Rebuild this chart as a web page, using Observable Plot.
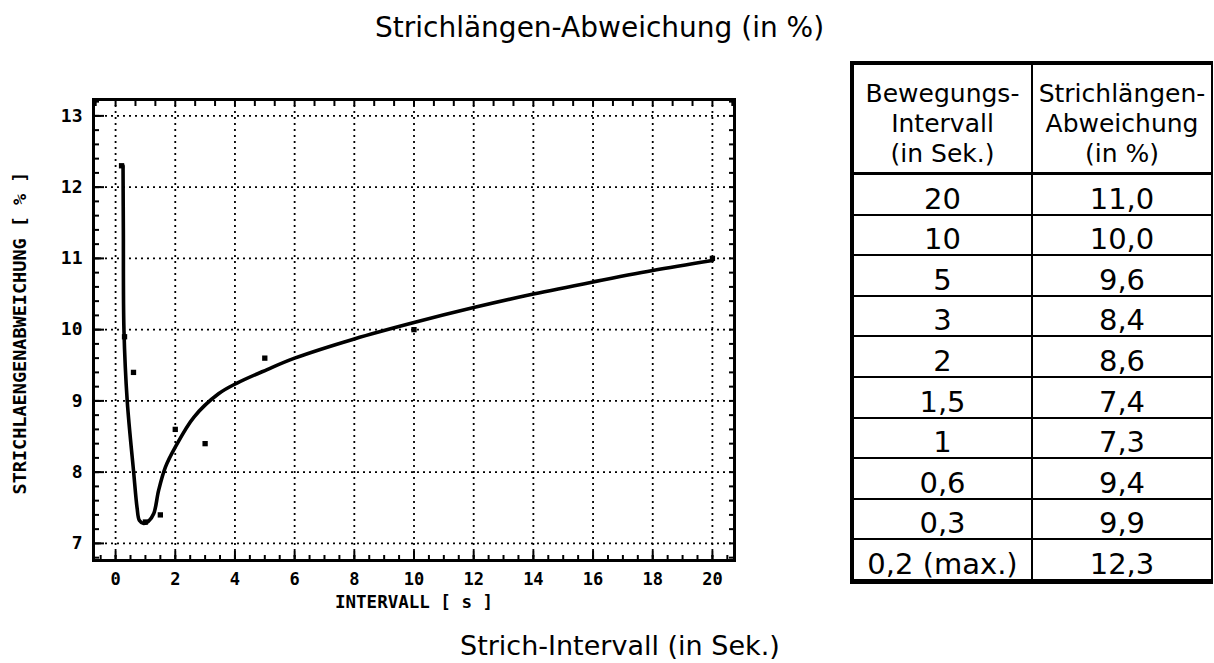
<!DOCTYPE html>
<html>
<head>
<meta charset="utf-8">
<script src="https://cdn.jsdelivr.net/npm/d3@7"></script>
<script src="https://cdn.jsdelivr.net/npm/@observablehq/plot@0.6"></script>
<style>
  body { margin: 0; background: #fff; }
  #page { position: relative; width: 1214px; height: 663px; overflow: hidden; background: #fff; }
  .txt { position: absolute; font-family: "DejaVu Sans", sans-serif; font-size: 28px; line-height: 28px; white-space: nowrap; color: #000; }
  #chart { position: absolute; left: 0; top: 0; }
  #tbl { position: absolute; left: 850px; top: 61px; border-collapse: separate; border-spacing: 0;
         font-family: "DejaVu Sans", sans-serif; color: #000;
         border-top: 4px solid #000; border-left: 4px solid #000; border-bottom: 3px solid #000; border-right: 2px solid #000; }
  #tbl td { box-sizing: border-box; padding: 0; text-align: center; vertical-align: bottom; white-space: nowrap;
            border-bottom: 2px solid #000; font-size: 29px; line-height: 30px; height: 40.6px; }
  #tbl td.c1 { border-right: 2px solid #000; width: 179px; }
  #tbl td.c2 { width: 178px; }
  #tbl tr.head td { height: 110px; border-bottom: 3px solid #000; font-size: 25px; line-height: 30px; padding-bottom: 3px; }
</style>
</head>
<body>
<div id="page">
  <div id="chart"></div>
  <div class="txt" style="left:375px; top:14px;">Strichlängen-Abweichung (in %)</div>
  <div class="txt" style="left:460px; top:632px; font-size:27px;">Strich-Intervall (in Sek.)</div>
</div>
<script>
// Measured values (table + square markers)
const intervals  = [20, 10, 5, 3, 2, 1.5, 1, 0.6, 0.3, 0.2];
const deviations = [11.0, 10.0, 9.6, 8.4, 8.6, 7.4, 7.3, 9.4, 9.9, 12.3];

// Fitted curve
const fitX = [0.25, 0.26, 0.28, 0.39, 0.61, 0.72, 0.8, 0.94, 1.1, 1.28, 1.44, 1.67, 2.0, 2.62, 3.45, 4.07, 5.08, 6.0, 8.0, 10.0, 12.0, 14.0, 16.0, 18.0, 20.0];
const fitY = [12.3, 11.4, 10.0, 9.0, 7.98, 7.5, 7.32, 7.28, 7.31, 7.42, 7.74, 8.07, 8.35, 8.77, 9.1, 9.25, 9.44, 9.6, 9.87, 10.1, 10.31, 10.5, 10.67, 10.83, 10.97];

// Tick labels / grid
const xMajorTicks = [0, 2, 4, 6, 8, 10, 12, 14, 16, 18, 20];
const yMajorTicks = [7, 8, 9, 10, 11, 12, 13];
const xMinorBottom = d3.range(-1, 42).map(i => i / 2);
const xMinorTop = d3.range(-1, 32).map(i => i * 2 / 3);
const yMinorTicks = d3.range(34, 67).map(i => i / 5);

// Table texts
const headerInterval = ["Bewegungs-", "Intervall", "(in Sek.)"];
const headerDeviation = ["Strichlängen-", "Abweichung", "(in %)"];
const comma = s => s.replace(".", ",");
const intervalLabels = intervals.map((v, i) => comma(String(v)) + (i === intervals.length - 1 ? " (max.)" : ""));
const deviationLabels = deviations.map(v => comma(v.toFixed(1)));

const measured = intervals.map((x, i) => ({x, y: deviations[i]}));
const fit = fitX.map((x, i) => ({x, y: fitY[i]}));

const monoBold = {fontFamily: "DejaVu Sans Mono, monospace", fontWeight: "bold"};
const noText = () => "";

const plot = Plot.plot({
  width: 760,
  height: 630,
  marginLeft: 93,
  marginRight: 26,
  marginTop: 99,
  marginBottom: 70,
  style: {background: "white", color: "black", overflow: "visible"},
  x: {domain: [-0.74, 20.74]},
  y: {domain: [6.76, 13.23]},
  marks: [
    Plot.ruleY(yMajorTicks, {stroke: "black", strokeWidth: 1.8, strokeDasharray: "2,4"}),
    Plot.ruleX(xMajorTicks, {stroke: "black", strokeWidth: 1.8, strokeDasharray: "2,4"}),
    // inward tick marks
    Plot.axisY({anchor: "left", ticks: yMinorTicks, tickSize: -6, strokeWidth: 2, tickFormat: noText, label: null}),
    Plot.axisY({anchor: "left", ticks: yMajorTicks, tickSize: -11, strokeWidth: 2, tickFormat: noText, label: null}),
    Plot.axisY({anchor: "right", ticks: yMinorTicks, tickSize: -6, strokeWidth: 2, tickFormat: noText, label: null}),
    Plot.axisX({anchor: "bottom", ticks: xMinorBottom, tickSize: -5, strokeWidth: 2, tickFormat: noText, label: null}),
    Plot.axisX({anchor: "bottom", ticks: xMajorTicks, tickSize: -9, strokeWidth: 2, tickFormat: noText, label: null}),
    Plot.axisX({anchor: "top", ticks: xMinorTop, tickSize: -6, strokeWidth: 2, tickFormat: noText, label: null}),
    // tick labels
    Plot.axisY({anchor: "left", ticks: yMajorTicks, tickSize: 0, tickPadding: 11, tickFormat: d => String(d), label: null, ...monoBold, fontSize: 18}),
    Plot.axisX({anchor: "bottom", ticks: xMajorTicks, tickSize: 0, tickPadding: 12, tickFormat: d => String(d), label: null, ...monoBold, fontSize: 17}),
    // axis titles
    Plot.text(["INTERVALL [ s ]"], {text: d => d, frameAnchor: "bottom", textAnchor: "middle", dy: 47, ...monoBold, fontSize: 17.5}),
    Plot.text(["STRICHLAENGENABWEICHUNG [ % ]"], {text: d => d, frameAnchor: "left", textAnchor: "middle", rotate: -90, dx: -73, dy: 3, ...monoBold, fontSize: 18.5}),
    Plot.frame({stroke: "black", strokeWidth: 3}),
    Plot.line(fit, {x: "x", y: "y", curve: "catmull-rom", stroke: "black", strokeWidth: 3.6}),
    Plot.dot(measured, {x: "x", y: "y", symbol: "square", r: 3, fill: "black", stroke: "none"})
  ]
});
document.getElementById("chart").appendChild(plot);

// Table
const table = d3.select("#page").append("table").attr("id", "tbl");
const head = table.append("tr").attr("class", "head");
head.append("td").attr("class", "c1").html(headerInterval.join("<br>"));
head.append("td").attr("class", "c2").html(headerDeviation.join("<br>"));
intervalLabels.forEach((lab, i) => {
  const tr = table.append("tr");
  tr.append("td").attr("class", "c1").text(lab);
  tr.append("td").attr("class", "c2").text(deviationLabels[i]);
});
</script>
</body>
</html>
